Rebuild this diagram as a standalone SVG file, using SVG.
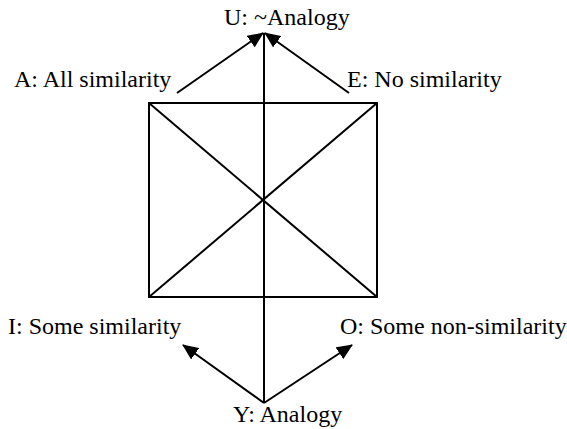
<svg xmlns="http://www.w3.org/2000/svg" width="567" height="429" viewBox="0 0 567 429">
<style>
.l{stroke:#000;stroke-width:2;fill:none}
text{font-family:'Liberation Serif','Times New Roman',serif;font-size:24px;fill:#000}
</style>
<defs>
<marker id="ah" markerUnits="userSpaceOnUse" markerWidth="16" markerHeight="14" refX="15" refY="7" orient="auto">
<path d="M0,0 L16,7 L0,14 z" fill="#000"/>
</marker>
</defs>
<g id="square">
<rect class="l" x="149" y="103" width="228" height="194"/>
<line class="l" x1="149" y1="103" x2="377" y2="297"/>
<line class="l" x1="377" y1="103" x2="149" y2="297"/>
</g>
<g id="connectors">
<line class="l" x1="264" y1="403" x2="264" y2="33"/>
<line class="l" x1="177" y1="93" x2="263" y2="33" marker-end="url(#ah)"/>
<line class="l" x1="349" y1="93" x2="265" y2="33" marker-end="url(#ah)"/>
<line class="l" x1="264" y1="403" x2="183" y2="345" marker-end="url(#ah)"/>
<line class="l" x1="264" y1="403" x2="352" y2="345" marker-end="url(#ah)"/>
</g>
<g id="U"><text x="224" y="25">U: ~Analogy</text></g>
<g id="A"><text x="14" y="87">A: All similarity</text></g>
<g id="E"><text x="347" y="87">E: No similarity</text></g>
<g id="I"><text x="8" y="334">I: Some similarity</text></g>
<g id="O"><text x="340" y="334">O: Some non-similarity</text></g>
<g id="Y"><text x="233" y="422">Y: Analogy</text></g>
</svg>
